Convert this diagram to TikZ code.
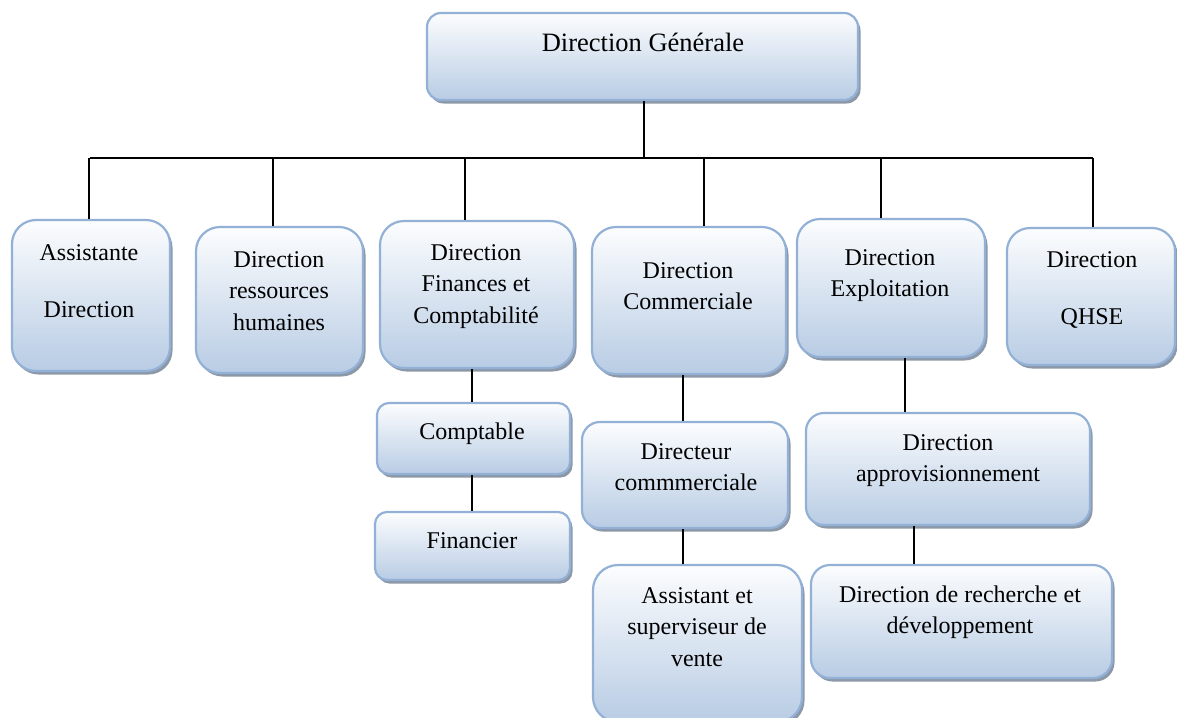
\documentclass[tikz,border=0pt]{standalone}
\usepackage{fontspec}
\setmainfont{Liberation Serif}
\newfontfamily\tnrfont{Liberation Serif}
\usetikzlibrary{shadows}
\definecolor{bordc}{HTML}{93B1D6}
\definecolor{topc}{HTML}{FCFDFE}
\definecolor{botc}{HTML}{B8CCE4}
\definecolor{shadc}{HTML}{8C98A8}
\newcommand{\boxtxt}[1]{\begin{tabular}[t]{@{}c@{}}#1\end{tabular}}
\tikzset{
  orgbox/.style={draw=bordc, line width=2.2pt, top color=topc, bottom color=botc,
    rounded corners=#1, inner sep=0pt,
    drop shadow={shadow xshift=2.5pt, shadow yshift=-3.5pt, fill=shadc, opacity=1}},
  lbl/.style={anchor=base, inner sep=0pt, font=\tnrfont\fontsize{24}{31.5}\selectfont},
  conn/.style={line width=1.3pt, black},
  bus/.style={line width=2pt, black}
}
\begin{document}
\begin{tikzpicture}[x=1pt, y=-1pt]
\useasboundingbox (0,0) rectangle (1177,717);
\clip (0,0) rectangle (1177,717);
% boxes
\node[orgbox=14pt, minimum width=431pt, minimum height=87pt] (top) at (642.5,56.5) {};
\node[orgbox=24pt, minimum width=158pt, minimum height=151pt] (b1) at (91,295.5) {};
\node[orgbox=24pt, minimum width=167pt, minimum height=146pt] (b2) at (279.5,300) {};
\node[orgbox=24pt, minimum width=194pt, minimum height=147pt] (b3) at (477,294.5) {};
\node[orgbox=24pt, minimum width=194pt, minimum height=147pt] (b4) at (689,300.5) {};
\node[orgbox=23pt, minimum width=188pt, minimum height=138pt] (b5) at (891,288) {};
\node[orgbox=23pt, minimum width=168pt, minimum height=137pt] (b6) at (1091,296.5) {};
\node[orgbox=12pt, minimum width=193pt, minimum height=71pt] (comp) at (473.5,438.5) {};
\node[orgbox=12pt, minimum width=195pt, minimum height=68pt] (fin) at (472.5,546) {};
\node[orgbox=18pt, minimum width=206pt, minimum height=106pt] (dirc) at (685,475) {};
\node[orgbox=25pt, minimum width=209pt, minimum height=157pt] (asst) at (697.5,643.5) {};
\node[orgbox=18pt, minimum width=284pt, minimum height=112pt] (appro) at (948,469) {};
\node[orgbox=19pt, minimum width=301pt, minimum height=113pt] (rd) at (961.5,621.5) {};
% texts
\node[anchor=base, inner sep=0pt, font=\tnrfont\fontsize{26.5}{32}\selectfont] (ttop) at (643,52) {Direction Générale};
\node[lbl] (t1) at (89,260) {\boxtxt{Assistante\\[26pt] Direction}};
\node[lbl] (t2) at (279,267) {\boxtxt{Direction\\ ressources\\ humaines}};
\node[lbl] (t3) at (476,260) {\boxtxt{Direction\\ Finances et\\ Comptabilité}};
\node[lbl] (t4) at (688,278) {\boxtxt{Direction\\ Commerciale}};
\node[lbl] (t5) at (890,265) {\boxtxt{Direction\\ Exploitation}};
\node[lbl] (t6) at (1092,267) {\boxtxt{Direction\\[26pt] QHSE}};
\node[lbl] (tc) at (472,439) {Comptable};
\node[lbl] (tf) at (472,548) {Financier};
\node[lbl] (td) at (686,459) {\boxtxt{Directeur\\ commmerciale}};
\node[lbl] (ta) at (697,603) {\boxtxt{Assistant et\\ superviseur de\\ vente}};
\node[lbl] (tp) at (948,450) {\boxtxt{Direction\\ approvisionnement}};
\node[lbl] (tr) at (960,602) {\boxtxt{Direction de recherche et\\ développement}};
% connectors
\coordinate (j0) at (644,158);
\coordinate (bl) at (90,158);
\coordinate (br) at (1093,158);
\coordinate (j1) at (89,158);
\coordinate (j2) at (273,158);
\coordinate (j3) at (465,158);
\coordinate (j4) at (704,158);
\coordinate (j5) at (881,158);
\coordinate (j6) at (1093,158);
\coordinate (k3) at (472,0);
\coordinate (k4) at (683,0);
\coordinate (k5) at (905,0);
\coordinate (k6) at (914,0);
\draw[conn] (top.south -| j0) -- (j0);
\draw[bus] (bl) -- (br);
\draw[conn] (j1) -- (j1 |- b1.north);
\draw[conn] (j2) -- (j2 |- b2.north);
\draw[conn] (j3) -- (j3 |- b3.north);
\draw[conn] (j4) -- (j4 |- b4.north);
\draw[conn] (j5) -- (j5 |- b5.north);
\draw[conn] (j6) -- (j6 |- b6.north);
\draw[conn] (b3.south -| k3) -- (comp.north -| k3);
\draw[conn] (comp.south -| k3) -- (fin.north -| k3);
\draw[conn] (b4.south -| k4) -- (dirc.north -| k4);
\draw[conn] (dirc.south -| k4) -- (asst.north -| k4);
\draw[conn] (b5.south -| k5) -- (appro.north -| k5);
\draw[conn] (appro.south -| k6) -- (rd.north -| k6);
\end{tikzpicture}
\end{document}
